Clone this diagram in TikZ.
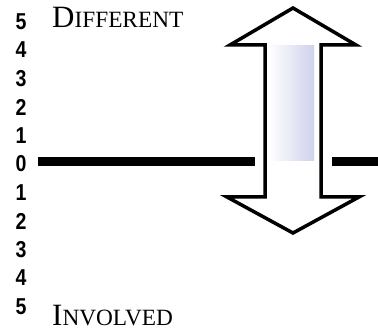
\documentclass[tikz,border=0pt]{standalone}
\usepackage{fontspec}
\setmainfont{Liberation Serif}
\newfontfamily\digitfont{Liberation Sans}
\definecolor{lavender}{RGB}{206,210,236}
\begin{document}
\begin{tikzpicture}[x=1pt,y=-1pt,
    scalelabel/.style={font=\digitfont\bfseries\fontsize{23}{23}\selectfont, inner sep=0pt, xscale=0.85},
    poletext/.style={font=\fontsize{31}{31}\selectfont, anchor=base west, inner sep=0pt},
    outline/.style={line width=3.5pt, miter limit=10}]
    \useasboundingbox (0,0) rectangle (378,336);

    % scale 5 ... 0 ... 5
    \foreach \k [evaluate=\k as \lab using int(abs(\k))] in {-5,...,5}
        \node[scalelabel] (s\lab\ifnum\k<0 a\else b\fi) at (21, 164+28.5*\k) {\lab};

    \node[poletext] (different) at (52,28) {D{\fontsize{23.3}{23.3}\selectfont IFFERENT}};
    \node[poletext] (involved) at (52,326) {I{\fontsize{23.3}{23.3}\selectfont NVOLVED}};

    \coordinate (axisL) at (38,162);
    \coordinate (gapL) at (255,162);
    \coordinate (gapR) at (332,162);
    \coordinate (axisR) at (378,162);

    \draw[line width=9pt] (axisL) -- (gapL);
    \draw[line width=9pt] (gapR) -- (axisR);

    \shade[left color=white, right color=lavender] (269,46) rectangle (314,161);

    % double arrow
    \draw[outline] (293,8) -- (356,45) -- (321,45) -- (321,197) -- (359,197)
        -- (293,233) -- (227,197) -- (265,197) -- (265,45) -- (230,45) -- cycle;
\end{tikzpicture}
\end{document}
